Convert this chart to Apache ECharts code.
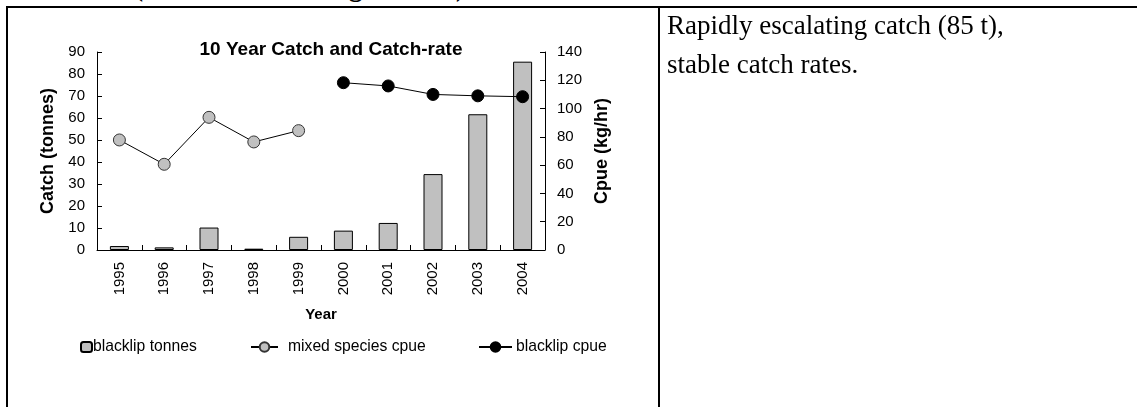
<!DOCTYPE html>
<html>
<head>
<meta charset="utf-8">
<script src="https://cdn.jsdelivr.net/npm/echarts@6/dist/echarts.min.js"></script>
<style>
  html, body { margin: 0; padding: 0; background: #fff; width: 1137px; height: 407px; overflow: hidden; position: relative; }
  #chart { position: absolute; left: 0; top: 0; width: 658px; height: 407px; }
  .line { position: absolute; background: #000; }
  .serif { position: absolute; font-family: "Liberation Serif", "Times New Roman", serif; color: #000; white-space: nowrap; }
</style>
</head>
<body>
<div class="serif" style="left:134px; top:-26px; font-size:27px; font-weight:bold; line-height:27px;">(</div>
<div class="serif" style="left:349px; top:-26px; font-size:27px; font-weight:bold; line-height:27px;">g</div>
<div class="serif" style="left:456px; top:-26px; font-size:27px; font-weight:bold; line-height:27px;">)</div>
<div id="chart"></div>
<div class="line" style="left:6px; top:6px; width:1131px; height:2px;"></div>
<div class="line" style="left:6px; top:6px; width:2px; height:401px;"></div>
<div class="line" style="left:658px; top:6px; width:2px; height:401px;"></div>
<div class="serif" style="left:667px; top:6px; font-size:27px; line-height:39px;">Rapidly escalating catch (85 t),<br>stable catch rates.</div>
<script>
const years = ['1995', '1996', '1997', '1998', '1999', '2000', '2001', '2002', '2003', '2004'];
const blacklipTonnes = [1.8, 1.2, 10.2, 0.6, 6.0, 8.8, 12.3, 34.5, 61.7, 85.6];
const mixedSpeciesCpue = [77.8, 60.6, 93.8, 76.4, 84.4, null, null, null, null, null];
const blacklipCpue = [null, null, null, null, null, 118.3, 116.0, 110.0, 109.0, 108.4];

const font = 'Liberation Sans, Arial, sans-serif';
const chart = echarts.init(document.getElementById('chart'), null, { renderer: 'canvas' });
chart.setOption({
  animation: false,
  backgroundColor: 'transparent',
  textStyle: { fontFamily: font, color: '#000' },
  title: {
    text: '10 Year Catch and Catch-rate',
    left: 326, top: 35, textAlign: 'center',
    textStyle: { fontFamily: font, fontSize: 19, fontWeight: 'bold', color: '#000' }
  },
  grid: { left: 97, right: 113, top: 52, bottom: 157, containLabel: false },
  legend: [
    { data: ['blacklip tonnes'], left: 80, top: 339, padding: 0, itemWidth: 11, itemHeight: 10, itemGap: 0,
      textStyle: { fontFamily: font, fontSize: 15.7, color: '#000', padding: [0, 0, 0, -4] } },
    { data: ['mixed species cpue'], left: 250, top: 339, padding: 0, itemWidth: 27, itemHeight: 12,
      textStyle: { fontFamily: font, fontSize: 15.7, color: '#000', padding: [0, 0, 0, 5] } },
    { data: ['blacklip cpue'], left: 478, top: 339, padding: 0, itemWidth: 33, itemHeight: 12,
      textStyle: { fontFamily: font, fontSize: 15.7, color: '#000', padding: [0, 0, 0, -1] } }
  ],
  xAxis: {
    type: 'category', data: years, boundaryGap: true,
    name: 'Year', nameLocation: 'middle', nameGap: 57,
    nameTextStyle: { fontFamily: font, fontSize: 15, fontWeight: 'bold', color: '#000' },
    axisLine: { show: true, lineStyle: { color: '#000', width: 1 } },
    axisTick: { show: true, inside: true, length: 5, interval: 0, lineStyle: { color: '#000' } },
    axisLabel: { rotate: 90, margin: 12, interval: 0, fontFamily: font, fontSize: 15, color: '#000' },
    splitLine: { show: false }
  },
  yAxis: [
    {
      type: 'value', min: 0, max: 90, interval: 10, position: 'left',
      name: 'Catch (tonnes)', nameLocation: 'middle', nameRotate: 90, nameGap: 37,
      nameTextStyle: { fontFamily: font, fontSize: 18, fontWeight: 'bold', color: '#000' },
      axisLine: { show: true, lineStyle: { color: '#000', width: 1 } },
      axisTick: { show: true, inside: true, length: 5, lineStyle: { color: '#000' } },
      axisLabel: { margin: 12, fontFamily: font, fontSize: 15, color: '#000' },
      splitLine: { show: false }
    },
    {
      type: 'value', min: 0, max: 140, interval: 20, position: 'right',
      name: 'Cpue (kg/hr)', nameLocation: 'middle', nameRotate: 90, nameGap: 46,
      nameTextStyle: { fontFamily: font, fontSize: 18, fontWeight: 'bold', color: '#000' },
      axisLine: { show: true, lineStyle: { color: '#000', width: 1 } },
      axisTick: { show: true, inside: true, length: 5, lineStyle: { color: '#000' } },
      axisLabel: { margin: 12, fontFamily: font, fontSize: 15, color: '#000' },
      splitLine: { show: false }
    }
  ],
  series: [
    {
      name: 'blacklip tonnes', type: 'bar', yAxisIndex: 0, data: blacklipTonnes, barWidth: 19,
      itemStyle: { color: '#c0c0c0', borderColor: '#000', borderWidth: 1 }
    },
    {
      name: 'mixed species cpue', type: 'line', yAxisIndex: 1, data: mixedSpeciesCpue,
      symbol: 'circle', symbolSize: 12, connectNulls: false,
      lineStyle: { color: '#000', width: 1 },
      itemStyle: { color: '#c0c0c0', borderColor: '#333', borderWidth: 1 }
    },
    {
      name: 'blacklip cpue', type: 'line', yAxisIndex: 1, data: blacklipCpue,
      symbol: 'circle', symbolSize: 12, connectNulls: false,
      lineStyle: { color: '#000', width: 1 },
      itemStyle: { color: '#000', borderColor: '#000', borderWidth: 1 }
    }
  ]
});
</script>
</body>
</html>
